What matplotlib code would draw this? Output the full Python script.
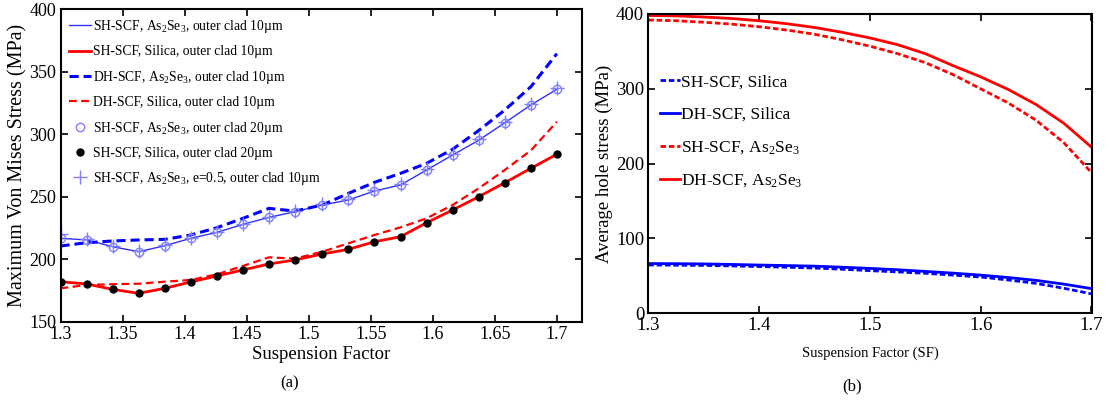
import numpy as np
import matplotlib
matplotlib.use("Agg")
import matplotlib.pyplot as plt

plt.rcParams['font.family'] = ['Liberation Serif', 'DejaVu Serif']
plt.rcParams['mathtext.fontset'] = 'custom'
plt.rcParams['mathtext.rm'] = 'Liberation Serif'
plt.rcParams['mathtext.it'] = 'Liberation Serif:italic'

# ---- panel (a): maximum von Mises stress vs suspension factor ----
sf_a = [1.300, 1.321, 1.342, 1.363, 1.384, 1.405, 1.426, 1.447, 1.468, 1.489,
        1.511, 1.532, 1.553, 1.574, 1.595, 1.616, 1.637, 1.658, 1.679, 1.700]

sh_as2se3_10 = [216.7, 215.5, 210.0, 206.0, 210.8, 216.7, 221.5, 227.9, 233.5, 238.0,
                243.4, 247.4, 254.6, 259.4, 271.4, 283.4, 295.2, 309.2, 323.4, 336.0]
sh_silica_10 = [182.0, 180.2, 175.9, 172.7, 176.7, 181.8, 186.6, 191.4, 196.2, 199.4,
                204.2, 207.9, 214.0, 218.0, 229.2, 239.4, 250.0, 261.2, 272.7, 284.0]
dh_as2se3_10 = [210.6, 213.2, 214.6, 215.4, 215.9, 219.4, 225.2, 232.7, 240.7, 238.5,
                243.4, 252.7, 261.5, 268.7, 276.7, 288.0, 303.0, 319.4, 338.0, 364.5]
dh_silica_10 = [176.7, 179.4, 180.0, 180.4, 182.0, 183.4, 187.9, 194.6, 201.5, 200.5,
                206.0, 212.7, 219.4, 225.5, 232.7, 243.4, 256.7, 271.4, 287.0, 310.0]
sh_as2se3_20 = [216.7, 215.5, 210.0, 206.0, 210.8, 216.7, 221.5, 227.9, 233.5, 238.0,
                243.4, 247.4, 254.6, 259.4, 271.4, 283.4, 295.2, 309.2, 323.4, 336.0]
sh_silica_20 = [182.0, 180.2, 175.9, 172.7, 176.7, 181.8, 186.6, 191.4, 196.2, 199.4,
                204.2, 207.9, 214.0, 218.0, 229.2, 239.4, 250.0, 261.2, 272.7, 284.0]
sh_as2se3_e05 = [220.5, 216.5, 210.5, 206.5, 211.5, 217.0, 222.0, 228.5, 234.0, 238.5,
                 244.0, 248.0, 255.0, 260.0, 272.0, 284.0, 296.0, 310.0, 324.0, 337.0]

# ---- panel (b): average hole stress vs suspension factor ----
sf_b = [1.300, 1.325, 1.350, 1.375, 1.400, 1.425, 1.450, 1.475, 1.500,
        1.525, 1.550, 1.575, 1.600, 1.625, 1.650, 1.675, 1.700]
b_sh_silica = [64.5, 64.3, 64.0, 63.3, 62.5, 61.6, 60.5, 58.9, 57.0,
               55.3, 53.5, 51.0, 48.5, 44.5, 40.0, 33.5, 26.0]
b_dh_silica = [66.5, 66.3, 66.0, 65.3, 64.5, 63.8, 63.0, 61.6, 60.0,
               58.2, 56.0, 53.7, 51.0, 47.8, 44.0, 39.0, 33.0]
b_sh_as2se3 = [392.0, 391.0, 389.0, 386.5, 383.0, 378.5, 373.0, 365.5, 357.0,
               347.0, 335.0, 319.0, 300.0, 281.0, 258.0, 228.0, 188.0]
b_dh_as2se3 = [398.0, 397.5, 396.0, 394.0, 391.0, 387.0, 382.0, 375.5, 368.0,
               359.0, 347.0, 331.0, 316.0, 299.0, 279.0, 254.0, 222.0]

fig = plt.figure(figsize=(11.1, 4.04), dpi=100)
ax1 = fig.add_axes([60.5 / 1110, (404 - 321.7) / 404, (581.7 - 60.5) / 1110, (321.7 - 9.3) / 404])
ax2 = fig.add_axes([648.3 / 1110, (404 - 313.3) / 404, (1091.5 - 648.3) / 1110, (313.3 - 14) / 404])

light = '#7f7fff'
ax1.plot(sf_a, sh_as2se3_10, '-', color='#3030ff', lw=1.0, label=r'SH-SCF, As$_2$Se$_3$, outer clad 10µm')
ax1.plot(sf_a, sh_silica_10, '-', color='red', lw=2.0, label='SH-SCF, Silica, outer clad 10µm')
ax1.plot(sf_a, dh_as2se3_10, '--', color='blue', lw=2.2, dashes=(3, 1.6), label=r'DH-SCF, As$_2$Se$_3$, outer clad 10µm')
ax1.plot(sf_a, dh_silica_10, '--', color='red', lw=1.6, dashes=(3.5, 2), label='DH-SCF, Silica, outer clad 10µm')
ax1.plot(sf_a, sh_as2se3_20, 'o', mfc='none', mec=light, ms=6, mew=1.0, label=r'SH-SCF, As$_2$Se$_3$, outer clad 20µm')
ax1.plot(sf_a, sh_silica_20, 'o', color='black', ms=5, label='SH-SCF, Silica, outer clad 20µm')
ax1.plot(sf_a, sh_as2se3_e05, '+', color=light, ms=10, mew=1.0, label=r'SH-SCF, As$_2$Se$_3$, e=0.5, outer clad 10µm')

ax1.set_xlim(1.3, 1.72)
ax1.set_ylim(150, 400)
ax1.set_xticks([1.3, 1.35, 1.4, 1.45, 1.5, 1.55, 1.6, 1.65, 1.7])
ax1.set_xticklabels(['1.3', '1.35', '1.4', '1.45', '1.5', '1.55', '1.6', '1.65', '1.7'])
ax1.set_yticks([150, 200, 250, 300, 350, 400])
ax1.set_xlabel('Suspension Factor', fontsize=13.5, labelpad=2)
ax1.set_ylabel('Maximum Von Mises Stress (MPa)', fontsize=14.5, labelpad=1)
ax1.legend(loc='upper left', bbox_to_anchor=(0.0, 1.0), frameon=False, fontsize=9.8,
           handlelength=1.6, handletextpad=0.15, labelspacing=0.76, borderaxespad=0.25)

ax2.plot(sf_b, b_sh_silica, '--', color='blue', lw=2.0, dashes=(2, 1), label='SH-SCF, Silica')
ax2.plot(sf_b, b_dh_silica, '-', color='blue', lw=2.0, label='DH-SCF, Silica')
ax2.plot(sf_b, b_sh_as2se3, '--', color='red', lw=2.0, dashes=(2, 1), label=r'SH-SCF, As$_2$Se$_3$')
ax2.plot(sf_b, b_dh_as2se3, '-', color='red', lw=2.0, label=r'DH-SCF, As$_2$Se$_3$')

ax2.set_xlim(1.3, 1.7)
ax2.set_ylim(0, 400)
ax2.set_xticks([1.3, 1.4, 1.5, 1.6, 1.7])
ax2.set_yticks([0, 100, 200, 300, 400])
ax2.set_xlabel('Suspension Factor (SF)', fontsize=10.5, labelpad=9)
ax2.set_ylabel('Average hole stress (MPa)', fontsize=13.5, labelpad=2)
ax2.legend(loc='upper left', bbox_to_anchor=(0.0, 0.84), frameon=False, fontsize=12.5,
           handlelength=1.1, handletextpad=0.1, labelspacing=0.95, borderaxespad=0.3)

for ax, fs in ((ax1, 13), (ax2, 13.5)):
    ax.tick_params(direction='in', top=True, right=True, length=5, width=1.2,
                   labelsize=fs, pad=3)
    for s in ax.spines.values():
        s.set_linewidth(1.5)

fig.text(290 / 1110, 1 - 383 / 404, '(a)', ha='center', va='center', fontsize=12)
fig.text(852 / 1110, 1 - 386 / 404, '(b)', ha='center', va='center', fontsize=12)

fig.savefig('out.png', dpi=100)
